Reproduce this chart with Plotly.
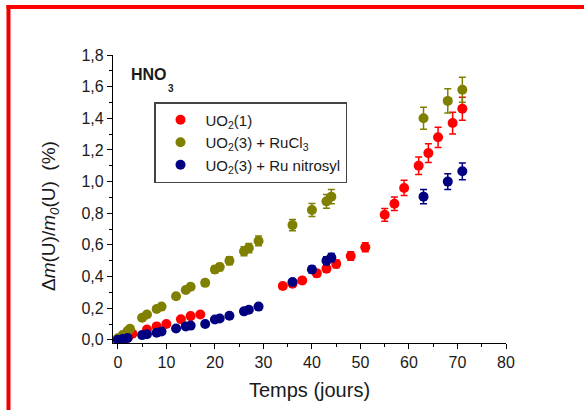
import plotly.graph_objects as go

# ---- data ----
uo2_1_x = [0, 1, 2, 3, 6, 8, 10, 13, 15, 17, 34, 36, 38, 41, 43, 45, 48, 51, 55, 57, 59, 62, 64, 66, 69, 71]
uo2_1_y = [0.0, 0.005, 0.012, 0.038, 0.065, 0.085, 0.10, 0.13, 0.15, 0.16, 0.34, 0.355, 0.375, 0.42, 0.45,
           0.48, 0.53, 0.585, 0.79, 0.86, 0.96, 1.10, 1.18, 1.28, 1.37, 1.46]
uo2_1_err = [0.0, 0.0, 0.001, 0.002, 0.003, 0.004, 0.005, 0.007, 0.008, 0.008, 0.017, 0.018, 0.019, 0.021,
             0.023, 0.024, 0.027, 0.029, 0.04, 0.043, 0.048, 0.055, 0.059, 0.064, 0.069, 0.073]

ru_cl_x = [0, 1, 2, 2.5, 5, 6, 8, 9, 12, 14, 15, 18, 20, 21, 23, 26, 27, 29, 36, 40, 43, 44, 63, 68, 71]
ru_cl_y = [0.01, 0.03, 0.055, 0.07, 0.14, 0.16, 0.195, 0.21, 0.275, 0.315, 0.335, 0.36, 0.445, 0.46, 0.50,
           0.56, 0.58, 0.625, 0.725, 0.82, 0.875, 0.905, 1.40, 1.51, 1.58]
ru_cl_err = [0.001, 0.002, 0.003, 0.004, 0.007, 0.008, 0.01, 0.011, 0.014, 0.016, 0.017, 0.018, 0.022,
             0.023, 0.025, 0.028, 0.029, 0.031, 0.036, 0.041, 0.044, 0.045, 0.07, 0.076, 0.079]

ru_no_x = [0, 1, 2, 5, 6, 8, 9, 12, 14, 15, 18, 20, 21, 23, 26, 27, 29, 36, 40, 43, 44, 63, 68, 71]
ru_no_y = [0.0, 0.005, 0.012, 0.03, 0.035, 0.045, 0.053, 0.072, 0.085, 0.09, 0.10, 0.128, 0.135, 0.152,
           0.18, 0.19, 0.21, 0.365, 0.445, 0.50, 0.52, 0.905, 1.00, 1.065]
ru_no_err = [0.0, 0.0, 0.001, 0.002, 0.002, 0.002, 0.003, 0.004, 0.004, 0.005, 0.005, 0.006, 0.007, 0.008,
             0.009, 0.01, 0.011, 0.018, 0.022, 0.025, 0.026, 0.045, 0.05, 0.053]

series_names = ["UO<sub>2</sub>(1)", "UO<sub>2</sub>(3) + RuCl<sub>3</sub>", "UO<sub>2</sub>(3) + Ru nitrosyl"]
series_colors = ["#FF0000", "#808000", "#000080"]

x_ticks = [0, 10, 20, 30, 40, 50, 60, 70, 80]
y_ticks = [0.0, 0.2, 0.4, 0.6, 0.8, 1.0, 1.2, 1.4, 1.6, 1.8]

FONT = "Liberation Sans, Arial, sans-serif"

fig = go.Figure()
for xs, ys, es, name, col in [
    (uo2_1_x, uo2_1_y, uo2_1_err, series_names[0], series_colors[0]),
    (ru_cl_x, ru_cl_y, ru_cl_err, series_names[1], series_colors[1]),
    (ru_no_x, ru_no_y, ru_no_err, series_names[2], series_colors[2]),
]:
    fig.add_trace(go.Scatter(
        x=xs, y=ys, mode="markers", name=name,
        marker=dict(color=col, size=10, line=dict(width=0)),
        error_y=dict(type="data", array=es, visible=True, color=col, thickness=1.5, width=3.5),
    ))

W, H = 584, 410
ML, MR, MT, MB = 113, 78, 55, 67
PW, PH = W - ML - MR, H - MT - MB


def px_x(p):
    return (p - ML) / PW


def px_y(p):
    return (H - MB - p) / PH


fig.update_layout(
    width=W, height=H,
    margin=dict(l=ML, r=MR, t=MT, b=MB, pad=0),
    paper_bgcolor="white", plot_bgcolor="white",
    separators=", ",
    font=dict(family=FONT, size=15, color="#1a1a1a"),
    showlegend=True,
    legend=dict(
        x=px_x(154), y=px_y(102), xanchor="left", yanchor="top",
        bordercolor="#444444", borderwidth=1.5, bgcolor="white",
        font=dict(family=FONT, size=15, color="#1a1a1a"),
        itemwidth=40, tracegroupgap=0,
    ),
    xaxis=dict(
        range=[-1, 80], tickmode="array", tickvals=x_ticks,
        showline=True, linecolor="black", linewidth=1.3, mirror=False,
        ticks="outside", ticklen=5, tickwidth=1.3, tickcolor="black",
        showgrid=False, zeroline=False,
        tickfont=dict(family=FONT, size=16, color="#1a1a1a"),
        minor=dict(dtick=5, tick0=0, ticks="outside", ticklen=3, tickwidth=1, tickcolor="black", showgrid=False),
        title=dict(text="Temps (jours)", font=dict(family=FONT, size=20, color="#1a1a1a"), standoff=12),
    ),
    yaxis=dict(
        range=[-0.02, 1.8], tickmode="array", tickvals=y_ticks, tickformat=".1f",
        showline=True, linecolor="black", linewidth=1.3, mirror=False,
        ticks="outside", ticklen=5, tickwidth=1.3, tickcolor="black",
        showgrid=False, zeroline=False,
        tickfont=dict(family=FONT, size=16, color="#1a1a1a"),
        minor=dict(dtick=0.1, tick0=0, ticks="outside", ticklen=3, tickwidth=1, tickcolor="black", showgrid=False),
    ),
)

# y-axis title (placed as rotated annotation to match position)
fig.add_annotation(
    text="Δ<i>m</i>(U)/<i>m</i><sub><i>0</i></sub>(U)  (%)",
    xref="paper", yref="paper", x=px_x(50), y=px_y(216),
    xanchor="center", yanchor="middle", textangle=-90, showarrow=False,
    font=dict(family=FONT, size=19, color="#1a1a1a"),
)

# HNO3 label
fig.add_annotation(
    text="<b>HNO</b>", xref="paper", yref="paper", x=px_x(149), y=px_y(74),
    xanchor="center", yanchor="middle", showarrow=False,
    font=dict(family=FONT, size=16, color="#1a1a1a"),
)
fig.add_annotation(
    text="<b>3</b>", xref="paper", yref="paper", x=px_x(171), y=px_y(88),
    xanchor="center", yanchor="middle", showarrow=False,
    font=dict(family=FONT, size=10, color="#1a1a1a"),
)

# red frame: top and left edges
fig.add_shape(
    type="line", xref="paper", yref="paper",
    x0=px_x(6.5), x1=px_x(584), y0=px_y(7), y1=px_y(7),
    line=dict(color="#FF0000", width=4), layer="above",
)
fig.add_shape(
    type="line", xref="paper", yref="paper",
    x0=px_x(8.5), x1=px_x(8.5), y0=px_y(5), y1=px_y(410),
    line=dict(color="#EE0000", width=4), layer="above",
)

fig.write_html(
    "out.html",
    config={"displayModeBar": False},
    post_script=(
        "document.documentElement.style.margin='0';"
        "document.documentElement.style.overflow='hidden';"
        "document.body.style.margin='0';document.body.style.overflow='hidden';"
    ),
)
